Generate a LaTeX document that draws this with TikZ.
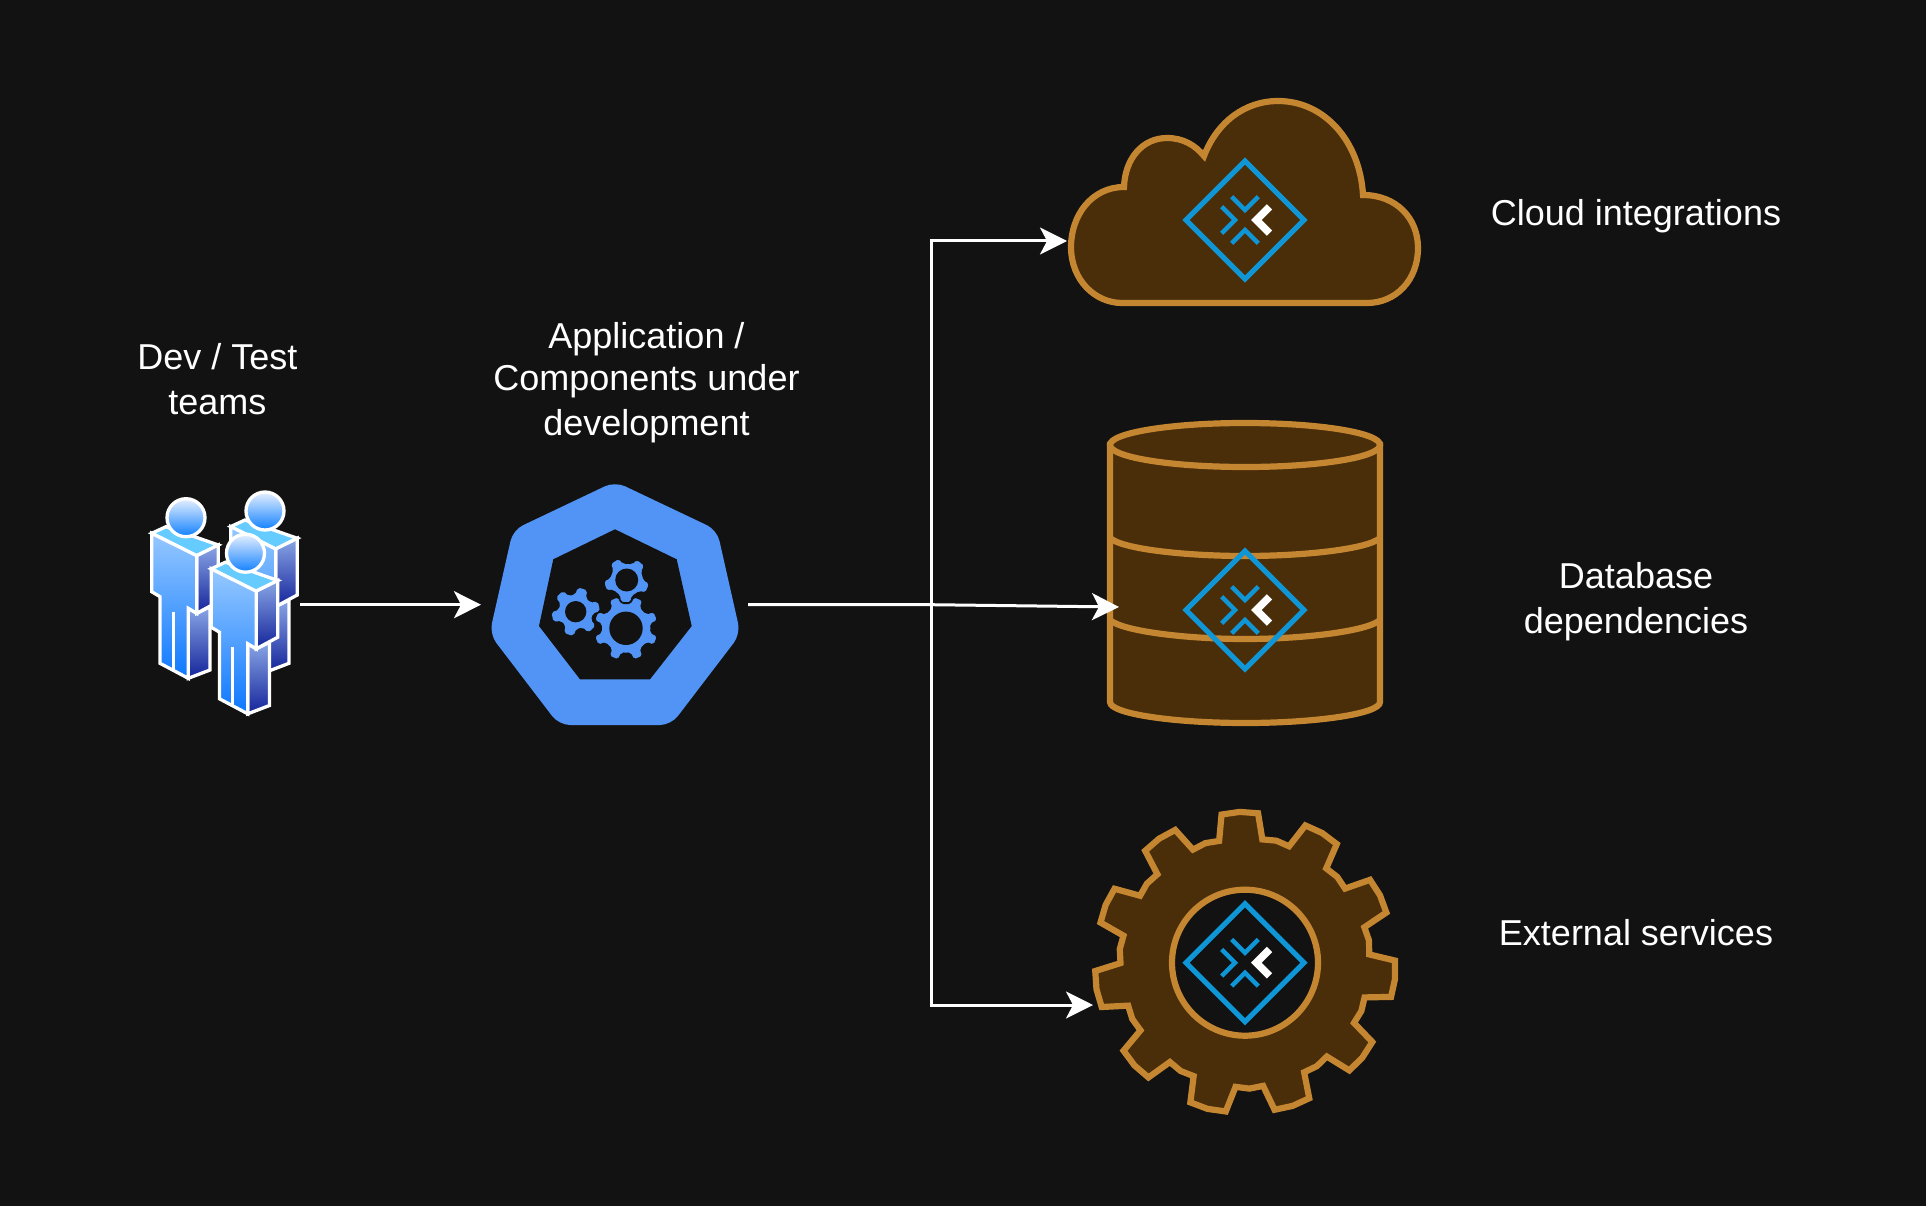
\documentclass[tikz,border=0pt]{standalone}
\usepackage{fontspec}
\setmainfont{Liberation Sans}
\usetikzlibrary{arrows.meta}
\definecolor{bgc}{HTML}{121212}
\definecolor{ofill}{HTML}{4A2E0A}
\definecolor{ostroke}{HTML}{C58631}
\definecolor{mblue}{HTML}{0F96D6}
\definecolor{kblue}{HTML}{5294F5}
\tikzset{
  lbl/.style={text=white,align=center,inner sep=0pt,font=\fontsize{36}{44.5}\selectfont},
  box/.style={inner sep=0pt,outer sep=0pt,minimum height=10pt},
  conn/.style={draw=white,line width=3pt,line join=miter,-{Stealth[length=27pt,width=27pt,inset=7pt]}},
  orange/.style={draw=ostroke,fill=ofill,line width=6.2pt,line join=miter},
  band/.style={draw=ostroke,line width=6.2pt},
  mline/.style={draw=mblue,line width=4.4pt,line cap=butt,line join=miter},
  pline/.style={draw=white,line width=3.3pt,line join=miter},
}
% marker: diamond with chevrons
\newcommand\Marker[2]{%
  \begin{scope}[shift={(#1,#2)}]
    \draw[mline,line width=5.2pt] (-59,0) -- (0,-59) -- (59,0) -- (0,59) -- cycle;
    \draw[mline] (-13.3,-23.3) -- (0,-10) -- (13.3,-23.3);
    \draw[mline] (-13.3,23.3) -- (0,10) -- (13.3,23.3);
    \draw[mline] (-23.3,-13.3) -- (-10,0) -- (-23.3,13.3);
    \draw[draw=white,line width=7.5pt,line join=miter] (24.5,-13.2) -- (11.3,0) -- (24.5,13.2);
  \end{scope}}
% person
\newcommand\Person[2]{%
  \begin{scope}[shift={(#1,#2)}]
    \path[pline,top color=HeadA,bottom color=HeadA] (151.7,533.3) -- (166,526.7) -- (218.3,545) -- (196.7,555.7) -- cycle;
    \path[pline,top color=SideA,bottom color=SideB] (188.3,608.3) -- (196.7,613.3) -- (210,606.7) -- (210,670) -- (188.3,678.3) -- cycle;
    \path[pline,top color=SideA,bottom color=SideB] (196.7,555.7) -- (218.3,545) -- (218.3,601.7) -- (196.7,613.3) -- cycle;
    \path[pline,top color=FrontA,bottom color=FrontB] (151.7,533.3) -- (196.7,555.7) -- (196.7,613.3) -- (188.3,608.3) -- (188.3,678.3) -- (160,663.3) -- (160,596.7) -- (151.7,591.7) -- cycle;
    \draw[pline] (173.3,611.7) -- (173.3,670);
    \path[pline,top color=FaceA,bottom color=FaceB] (186,517.7) circle (19);
  \end{scope}}
\definecolor{HeadA}{HTML}{66CCFF}
\definecolor{SideA}{HTML}{8AA6E6}
\definecolor{SideB}{HTML}{14249A}
\definecolor{FrontA}{HTML}{95C8FF}
\definecolor{FrontB}{HTML}{0E78FF}
\definecolor{FaceA}{HTML}{E6F0FF}
\definecolor{FaceB}{HTML}{1080FF}
% gear: #1 cx, #2 cy, #3 root r, #4 tip r, #5 teeth, #6 rot, #7 half root, #8 half tip, #9 path style
\newcommand\GearFill[9]{%
  \pgfmathtruncatemacro\gN{#5-1}%
  \pgfmathsetmacro\gS{360/#5}%
  \pgfmathsetmacro\gH{180/#5}%
  \pgfmathsetmacro\gRm{#3*1.012}%
  \pgfmathsetmacro\gTm{#4*1.006}%
  \begin{scope}[shift={(#1,#2)},y=1pt]
    \path[#9] ({#6+#7}:#3)
      \foreach \i [evaluate=\i as \a using #6+\i*\gS] in {1,...,\gN} {
        -- ({\a-\gH}:\gRm) -- ({\a-#7}:#3) -- ({\a-#8}:#4) -- (\a:\gTm) -- ({\a+#8}:#4) -- ({\a+#7}:#3)
      }
      -- ({#6-\gH}:\gRm) -- ({#6-#7}:#3) -- ({#6-#8}:#4) -- (#6:\gTm) -- ({#6+#8}:#4) -- cycle;
  \end{scope}}
\begin{document}
\begin{tikzpicture}[x=1pt,y=-1pt]
\useasboundingbox (0,0) rectangle (1926,1206);
\fill[bgc] (0,0) rectangle (1926,1206);

% anchor boxes for the connectors
\node[box,minimum width=150pt] (team) at (225,604.7) {};
\node[box,minimum width=267pt] (hexa) at (614.5,604.7) {};
\node[box,minimum width=356pt] (cloud) at (1245,241) {};
\node[box,minimum width=252pt] (db) at (1245,607) {};
\node[box,minimum width=304pt] (gear) at (1245,1005) {};
\coordinate (branch) at (931,604.7);

% labels
\node[lbl] (teamlabel) at (217.4,379) {Dev / Test\\teams};
\node[lbl] (applabel) at (646.5,382.5) {Application /\\[-2pt]Components under\\development};
\node[lbl] (cloudlabel) at (1636,216) {Cloud integrations};
\node[lbl] (dblabel) at (1636,601.5) {Database\\dependencies};
\node[lbl] (gearlabel) at (1636,933) {External services};

% people
\Person{79}{-6.7}
\Person{0}{0}
\Person{59.5}{35.5}

% hexagon
\fill[kblue,rounded corners=11pt] (615,481.5) -- (717,530) -- (740.5,634) -- (671,725) -- (559,725) -- (489.5,634) -- (513,530) -- cycle;
\fill[bgc] (615,529.3) -- (676.7,559.3) -- (691.7,626) -- (650,679.3) -- (580,679.3) -- (539,626) -- (553.3,559.3) -- cycle;
\GearFill{575.7}{611.7}{17}{24}{6}{73}{19}{12}{fill=kblue,rounded corners=2pt}
\fill[bgc] (575.7,611.7) circle (10.7);
\GearFill{626}{628.3}{25}{32.5}{8}{22.5}{13}{9}{fill=kblue,draw=bgc,line width=1.5pt,rounded corners=2pt}
\fill[bgc] (626,628.3) circle (16.7);
\GearFill{626.7}{580}{17}{23}{5}{51}{22}{14}{fill=kblue,draw=bgc,line width=1.5pt,rounded corners=2pt}
\fill[bgc] (626.7,580) circle (11.5);

% cloud
\path[orange] (1124,187) .. controls (1092,187) and (1071,215) .. (1071,247)
  .. controls (1071,280) and (1095,303) .. (1122,303) -- (1367,303)
  .. controls (1396,303) and (1418,280) .. (1418,248)
  .. controls (1418,218) and (1396,195) .. (1363,195)
  .. controls (1360,142) and (1325,101) .. (1278,101)
  .. controls (1245,101) and (1217,122) .. (1204,156)
  .. controls (1195,145) and (1183,138) .. (1167,138)
  .. controls (1143,138) and (1125,158) .. (1124,187) -- cycle;
\Marker{1245}{220}

% database
\path[orange] (1110,445) -- (1110,702) .. controls (1110,714) and (1175,723) .. (1245,723)
  .. controls (1315,723) and (1380,714) .. (1380,702) -- (1380,445) -- cycle;
\path[orange] (1245,445) ellipse [x radius=135,y radius=22];
\draw[band] (1110,538) .. controls (1122,549) and (1185,556) .. (1245,556) .. controls (1305,556) and (1368,549) .. (1380,538);
\draw[band] (1110,620) .. controls (1122,631) and (1185,639) .. (1245,639) .. controls (1305,639) and (1368,631) .. (1380,620);
\Marker{1245}{610}

% big gear
\GearFill{1245}{962.7}{124.5}{150}{11}{92}{10}{7}{orange}
\filldraw[draw=ostroke,fill=bgc,line width=6.2pt] (1245,962.7) circle (73);
\Marker{1245}{962.7}

% connectors
\draw[conn] (team.east) -- (hexa.west);
\draw[conn] (hexa.east) -- (branch) |- (cloud.west);
\draw[conn] (hexa.east) -- (branch) -- (db.west);
\draw[conn] (hexa.east) -- (branch) |- (gear.west);
\end{tikzpicture}
\end{document}
